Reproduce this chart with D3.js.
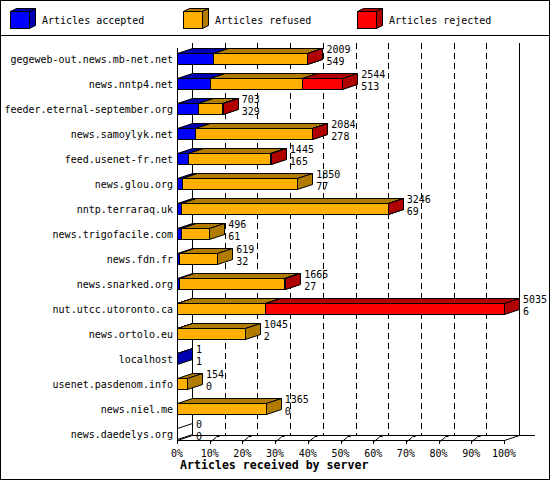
<!DOCTYPE html>
<html><head><meta charset="utf-8">
<script src="https://cdn.jsdelivr.net/npm/d3@7"></script>
<style>
body{margin:0;background:#fff}
svg{display:block}
text{font-family:"DejaVu Sans Mono","Liberation Mono",monospace;fill:#000}
</style>
</head><body>
<svg id="c" width="550" height="480"></svg>
<script>
const categories = ["gegeweb-out.news.mb-net.net","news.nntp4.net","feeder.eternal-september.org","news.samoylyk.net","feed.usenet-fr.net","news.glou.org","nntp.terraraq.uk","news.trigofacile.com","news.fdn.fr","news.snarked.org","nut.utcc.utoronto.ca","news.ortolo.eu","localhost","usenet.pasdenom.info","news.niel.me","news.daedelys.org"];
const totals   = [2009,2544,703,2084,1445,1850,3246,496,619,1665,5035,1045,1,154,1365,0];
const accepted = [549,513,329,278,165,77,69,61,32,27,6,2,1,0,0,0];
const refused  = [1448,1416,358,1794,1268,1773,3173,435,587,1628,1354,1043,0,154,1365,0];
const rejected = [12,615,16,12,12,0,4,0,0,10,3675,0,0,0,0,0];
const seriesNames  = ["Articles accepted","Articles refused","Articles rejected"];
const seriesColors = ["#0000ff","#ffb000","#ff0000"];
const seriesDark   = ["#0000b0","#b07b00","#b00000"];
const pctTicks = [0,10,20,30,40,50,60,70,80,90,100];
const axisTitle = "Articles received by server";

const svg = d3.select("#c");
const DX = 15, DY = -5;
const X0 = 177, X1 = 504;
const r = v => Math.round(v) + 0.5;

svg.append("rect").attr("x",0).attr("y",0).attr("width",550).attr("height",480).attr("fill","#fff");

const x = d3.scaleLinear().domain([0, d3.max(totals)]).range([X0, X1]);
const xp = d3.scaleLinear().domain([0, 100]).range([X0, X1]);
const y = d3.scaleBand().domain(categories).range([40, 440]);

const series = [accepted, refused, rejected];

// Legend
const leg = svg.append("g");
const legX = [10, 183, 357];
seriesNames.forEach((n, k) => {
  const lx = legX[k] + 0.5, ly = 11.5, w = 19, h = 17, dx = 6, dy = -3;
  leg.append("rect").attr("x",lx).attr("y",ly).attr("width",w).attr("height",h)
    .attr("fill",seriesColors[k]).attr("stroke","#000");
  leg.append("path").attr("d",`M${lx},${ly}L${lx+dx},${ly+dy}L${lx+w+dx},${ly+dy}L${lx+w},${ly}Z`)
    .attr("fill",seriesDark[k]).attr("stroke","#000");
  leg.append("path").attr("d",`M${lx+w},${ly}L${lx+w+dx},${ly+dy}L${lx+w+dx},${ly+h+dy}L${lx+w},${ly+h}Z`)
    .attr("fill",seriesDark[k]).attr("stroke","#000");
  leg.append("text").attr("x",legX[k]+32).attr("y",24).attr("font-size","10px").text(n);
});
svg.append("line").attr("x1",0).attr("x2",550).attr("y1",35.5).attr("y2",35.5).attr("stroke","#000");

// Back wall & grid
const g = svg.append("g");
const backTop = 43, backBot = 435, frontBot = 440;
pctTicks.slice(1, -1).forEach(t => {
  g.append("line").attr("x1",r(xp(t)+DX)).attr("x2",r(xp(t)+DX)).attr("y1",backTop).attr("y2",backBot)
    .attr("stroke","#000").attr("stroke-dasharray","6,4");
});
[X0 + DX, X1 + DX].forEach(xx => {
  g.append("line").attr("x1",r(xx)).attr("x2",r(xx)).attr("y1",backTop).attr("y2",backBot+0.5).attr("stroke","#000");
});
g.append("line").attr("x1",r(X0+DX)).attr("x2",535).attr("y1",backBot+0.5).attr("y2",backBot+0.5).attr("stroke","#000");
g.append("line").attr("x1",r(X0)).attr("x2",r(X0)).attr("y1",48).attr("y2",frontBot+0.5).attr("stroke","#000");
g.append("line").attr("x1",r(X0)).attr("x2",r(X1)).attr("y1",frontBot+0.5).attr("y2",frontBot+0.5).attr("stroke","#000");
g.append("line").attr("x1",r(X0)).attr("x2",r(X0+DX)).attr("y1",frontBot+0.5).attr("y2",backBot+0.5).attr("stroke","#000");
g.append("line").attr("x1",r(X1)).attr("x2",r(X1+DX)).attr("y1",frontBot+0.5).attr("y2",backBot+0.5).attr("stroke","#000");

// ticks
pctTicks.forEach(t => {
  const tx = r(xp(t));
  g.append("line").attr("x1",tx).attr("x2",tx).attr("y1",frontBot).attr("y2",frontBot+4).attr("stroke","#000");
  if (t > 0 && t < 100) {
    g.append("line").attr("x1",tx).attr("x2",tx+6).attr("y1",frontBot+2).attr("y2",frontBot-3).attr("stroke","#000");
    g.append("rect").attr("x",tx+6).attr("y",backBot).attr("width",3).attr("height",2).attr("fill","#000");
  }
  g.append("text").attr("x",xp(t)).attr("y",457).attr("text-anchor","middle").attr("font-size","10px").text(t + "%");
});
g.append("text").attr("x",180).attr("y",469).attr("font-size","11.6px").attr("font-weight","bold").text(axisTitle);

// Bars
const bars = svg.append("g");
function box(xa, xb, ya, yb, fill, dark) {
  bars.append("rect").attr("x",xa).attr("y",ya).attr("width",Math.max(0,xb-xa)).attr("height",yb-ya)
    .attr("fill",fill).attr("stroke","#000");
  bars.append("path").attr("d",`M${xa},${ya}L${xa+DX},${ya+DY}L${xb+DX},${ya+DY}L${xb},${ya}Z`)
    .attr("fill",dark).attr("stroke","#000");
  bars.append("path").attr("d",`M${xb},${ya}L${xb+DX},${ya+DY}L${xb+DX},${yb+DY}L${xb},${yb}Z`)
    .attr("fill",dark).attr("stroke","#000");
}
categories.forEach((c, i) => {
  const b = y(c);
  const ya = b + 13.5, yb = b + 24.5;
  let cum = 0, any = false;
  series.forEach((s, k) => {
    const v = s[i];
    if (v > 0) {
      const xa = r(x(cum)), xb = r(x(cum + v));
      box(xa, xb, ya, yb, seriesColors[k], seriesDark[k]);
      any = true;
    }
    cum += v;
  });
  if (!any) {
    const xa = r(x(0));
    bars.append("path").attr("d",`M${xa},${ya}L${xa+DX},${ya+DY}L${xa+DX},${yb+DY}L${xa},${yb}Z`)
      .attr("fill","#fff").attr("stroke","#000");
  }
  const lx = x(totals[i]) + DX + 4;
  bars.append("text").attr("x",lx).attr("y",b+13).attr("font-size","10px").text(totals[i]);
  bars.append("text").attr("x",lx).attr("y",b+24.5).attr("font-size","10px").text(accepted[i]);
  bars.append("text").attr("x",173).attr("y",b+22.5).attr("text-anchor","end").attr("font-size","10px").text(c);
});

svg.append("rect").attr("x",0.5).attr("y",0.5).attr("width",549).attr("height",479)
  .attr("fill","none").attr("stroke","#000");
</script>
</body></html>
